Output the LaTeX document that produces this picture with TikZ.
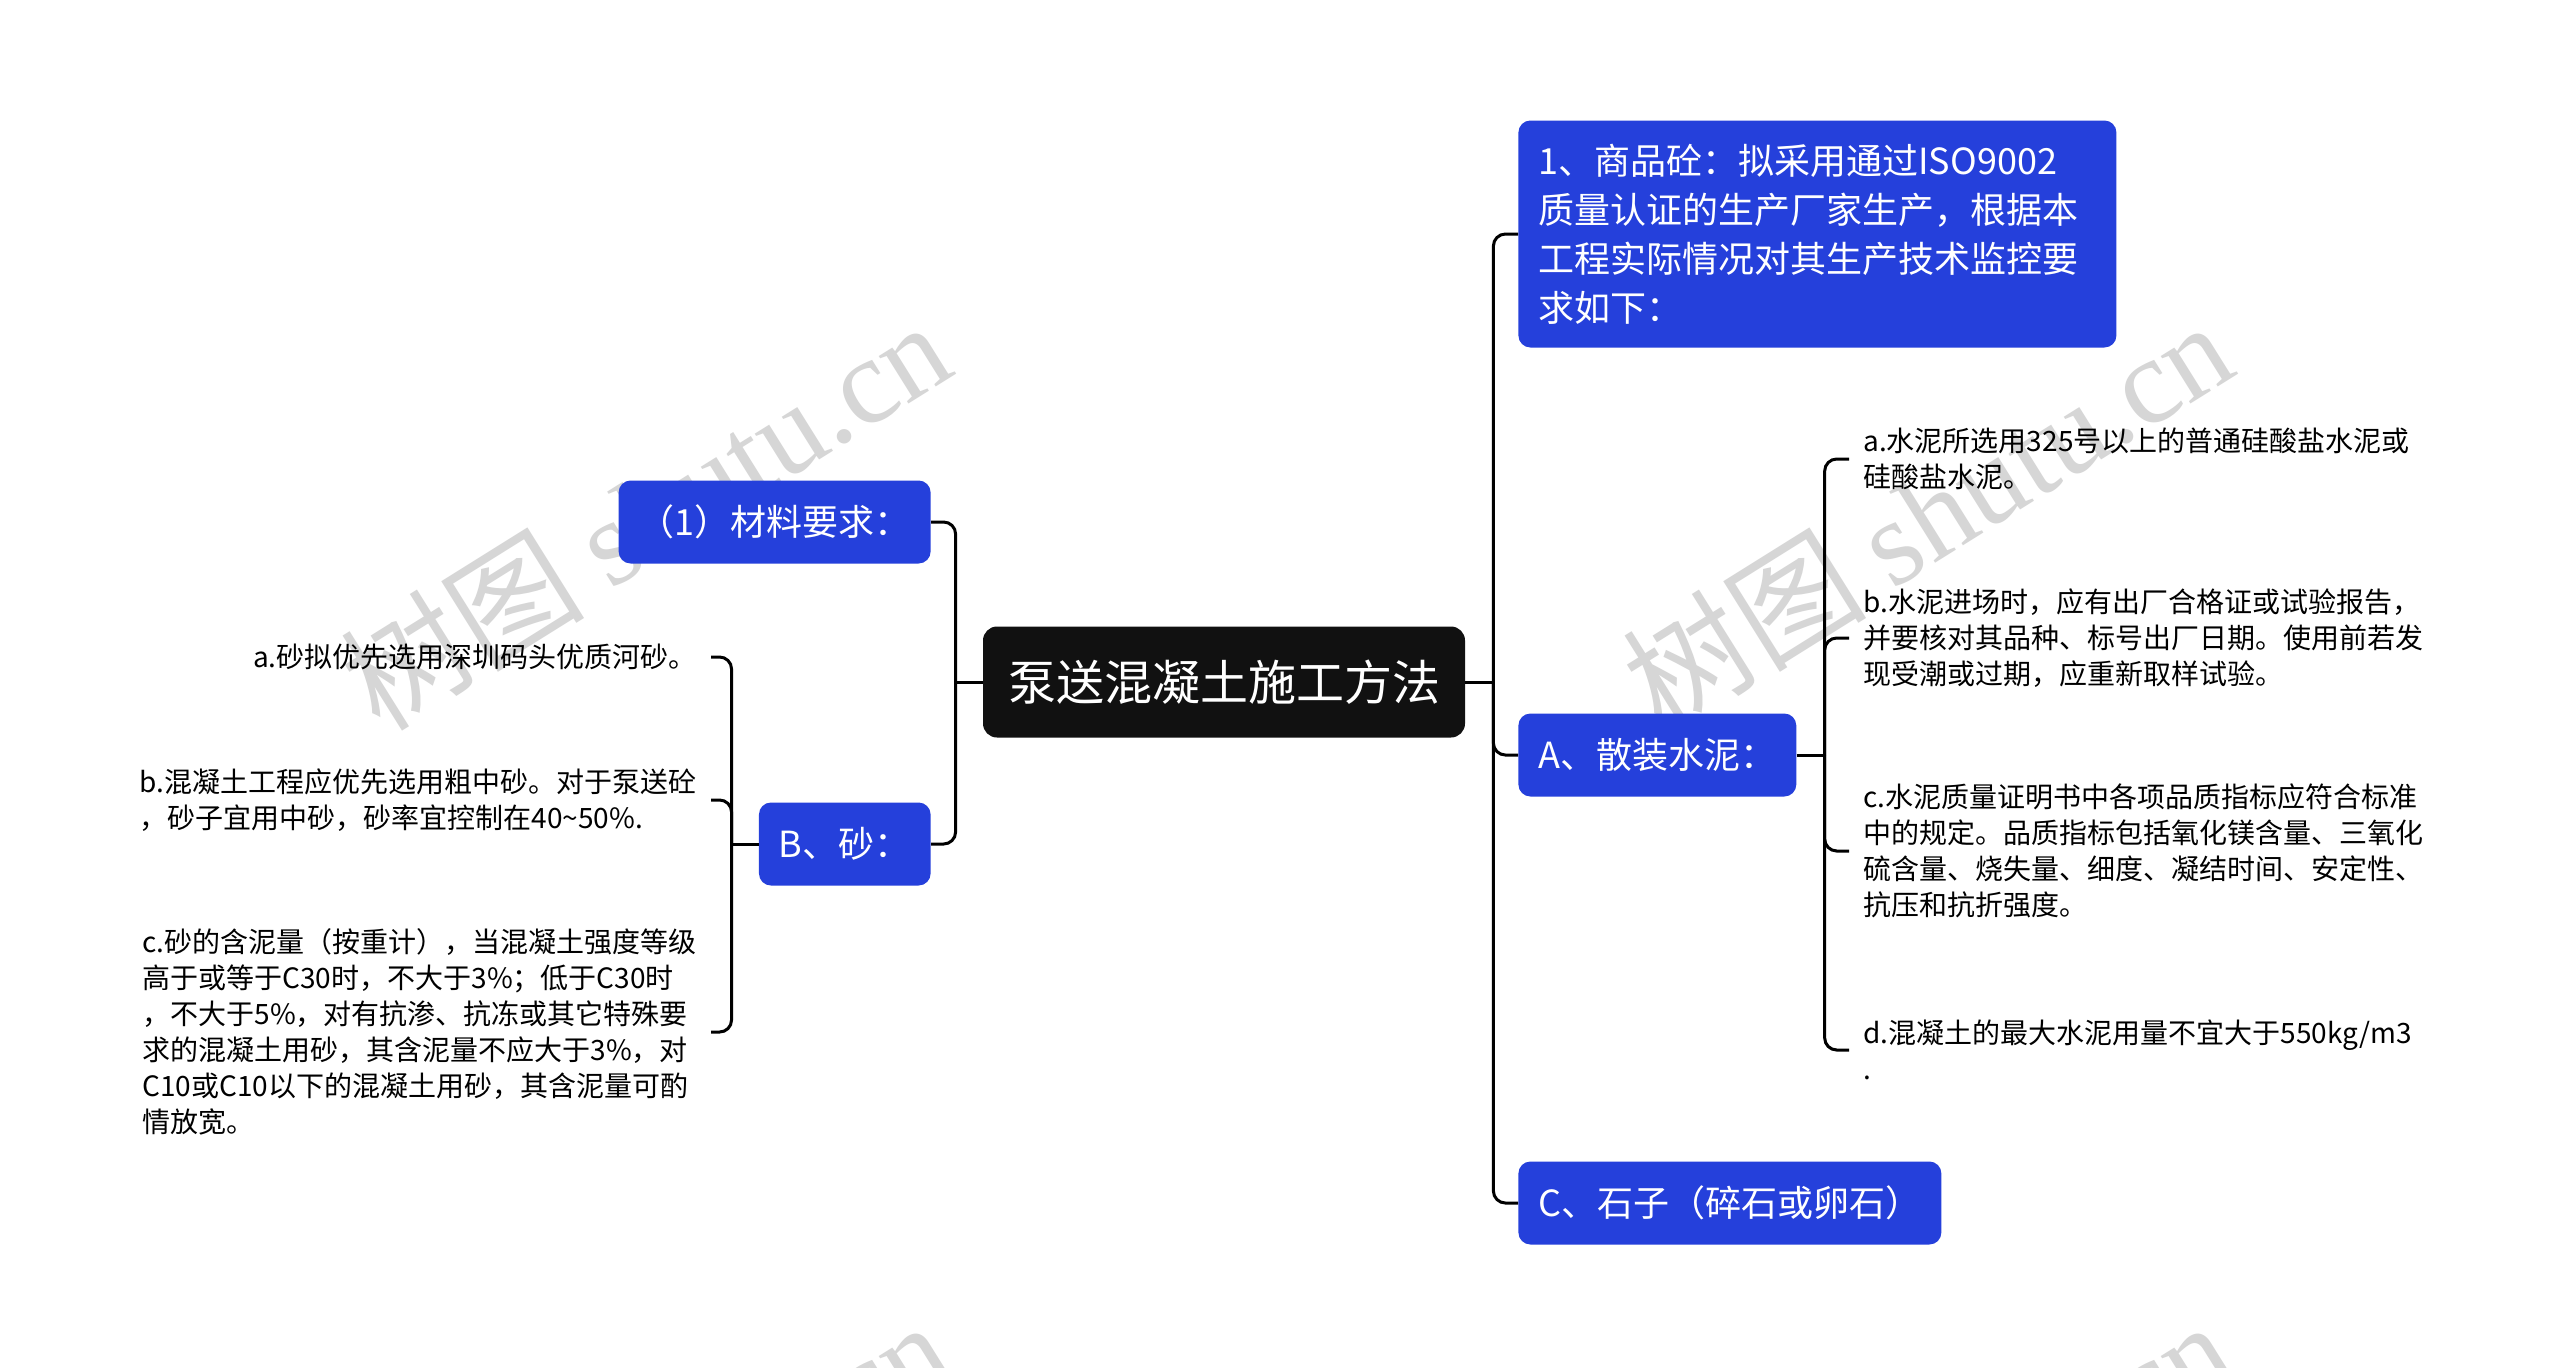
\documentclass[tikz,border=0pt]{standalone}
\usepackage{fontspec}
\setmainfont{Noto Sans CJK SC}
\newfontfamily\wmfont{Liberation Serif}
\definecolor{boxblue}{HTML}{2540DB}
\definecolor{rootblack}{HTML}{111111}
\tikzset{
	root/.style={fill=rootblack,text=white,rounded corners=7pt,font=\fontsize{24pt}{30pt}\selectfont,minimum height=55.5pt,inner xsep=12.5pt},
	topic/.style={fill=boxblue,text=white,rounded corners=6pt,font=\fontsize{18pt}{24.5pt}\selectfont,minimum height=41.5pt,inner xsep=10pt,align=left},
	leaf/.style={font=\fontsize{14pt}{18pt}\selectfont,align=left,inner xsep=7pt,inner ysep=2pt},
	link/.style={line width=1.5pt,rounded corners=6pt},
	watermark/.style={text=black!16,rotate=32,font=\fontsize{61pt}{61pt}\selectfont}
}
\begin{document}
\begin{tikzpicture}[x=0.5pt,y=-0.5pt]
		\path[use as bounding box,fill=white] (0,0) rectangle (2560,1367);
		
		\foreach \p [count=\i] in {(645,514),(1927,514),(645,1514),(1927,1514)}
			\node[watermark] (wm\i) at \p {树图 {\wmfont shutu.cn}};
		
		\node[root] (root) at (1224,682) {泵送混凝土施工方法};
		
		\node[topic,anchor=west,text width=279pt,minimum height=113.5pt] (q1) at (1518,234) {1、商品砼：拟采用通过ISO9002\\质量认证的生产厂家生产，根据本\\工程实际情况对其生产技术监控要\\求如下：};
		\node[topic,anchor=west] (A) at (1518,755) {A、散装水泥：};
		\node[topic,anchor=west] (C) at (1518,1203) {C、石子（碎石或卵石）};
		\node[topic,anchor=east] (m1) at (931,522) {（1）材料要求：};
		\node[topic,anchor=east] (B) at (931,844) {B、砂：};
		
		\node[leaf,anchor=west] (aa) at (1849,459) {a.水泥所选用325号以上的普通硅酸盐水泥或\\硅酸盐水泥。};
		\node[leaf,anchor=west] (ab) at (1849,638) {b.水泥进场时，应有出厂合格证或试验报告，\\并要核对其品种、标号出厂日期。使用前若发\\现受潮或过期，应重新取样试验。};
		\node[leaf,anchor=west] (ac) at (1849,851) {c.水泥质量证明书中各项品质指标应符合标准\\中的规定。品质指标包括氧化镁含量、三氧化\\硫含量、烧失量、细度、凝结时间、安定性、\\抗压和抗折强度。};
		\node[leaf,anchor=west] (ad) at (1849,1050) {d.混凝土的最大水泥用量不宜大于550kg/m3\\.};
		
		\node[leaf,anchor=east] (ba) at (711,657) {a.砂拟优先选用深圳码头优质河砂。};
		\node[leaf,anchor=east] (bb) at (711,800) {b.混凝土工程应优先选用粗中砂。对于泵送砼\\，砂子宜用中砂，砂率宜控制在40\textasciitilde 50\%.};
		\node[leaf,anchor=east] (bc) at (711,1032) {c.砂的含泥量（按重计），当混凝土强度等级\\高于或等于C30时，不大于3\%；低于C30时\\，不大于5\%，对有抗渗、抗冻或其它特殊要\\求的混凝土用砂，其含泥量不应大于3\%，对\\C10或C10以下的混凝土用砂，其含泥量可酌\\情放宽。};
		
		\coordinate (rj) at ([xshift=14pt]root.east);
		\coordinate (lj) at ([xshift=-13.5pt]root.west);
		\coordinate (aj) at ([xshift=14pt]A.east);
		\coordinate (bj) at ([xshift=-13.5pt]B.west);
		
		\draw[link] (root.east) -- (rj);
		\draw[link] (root.west) -- (lj);
		\draw[link] (A.east) -- (aj);
		\draw[link] (B.west) -- (bj);
		\foreach \n in {q1,A,C}
			\draw[link] (rj) |- (\n.west);
		\foreach \n in {m1,B}
			\draw[link] (lj) |- (\n.east);
		\foreach \n in {aa,ab,ac,ad}
			\draw[link] (aj) |- (\n.west);
		\foreach \n in {ba,bb,bc}
			\draw[link] (bj) |- (\n.east);
	\end{tikzpicture}
\end{document}
